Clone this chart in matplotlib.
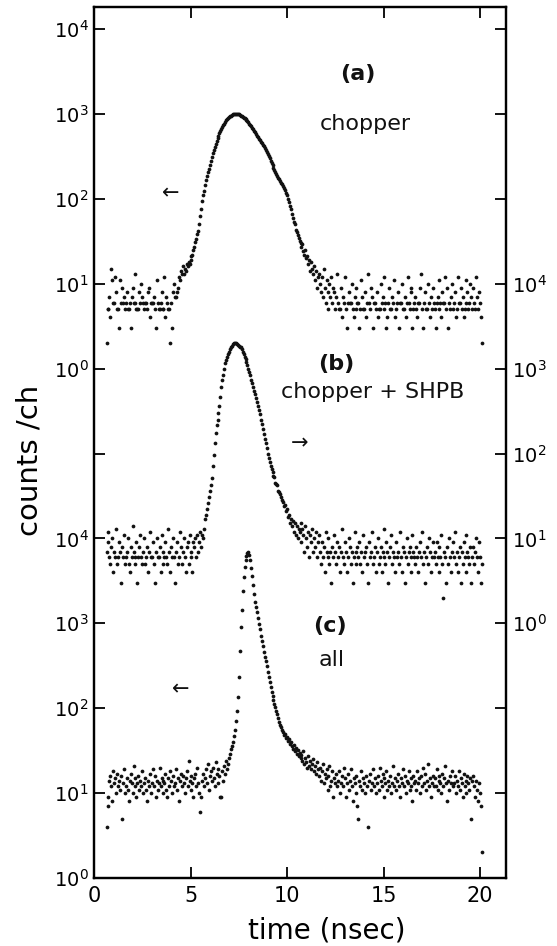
import numpy as np
import matplotlib
matplotlib.use("Agg")
import matplotlib.pyplot as plt
from matplotlib.ticker import FixedLocator, FuncFormatter, NullLocator

# channel grid: 0.05 ns per channel starting at 0.65 ns, 20 channels per row
t0, dt = 0.65, 0.05

# (a) chopper -- upper left scale
counts_a = [
    2, 5, 5, 7, 4, 15, 11, 6, 6, 12, 8, 5, 5, 3, 11, 6, 9, 6, 7, 5,
    6, 8, 5, 5, 6, 3, 7, 9, 6, 13, 6, 5, 5, 5, 8, 6, 10, 7, 6, 5,
    6, 6, 5, 8, 9, 4, 6, 6, 6, 7, 5, 3, 11, 6, 5, 5, 6, 8, 5, 5,
    12, 4, 7, 6, 5, 5, 2, 6, 3, 8, 10, 7, 7, 8, 9, 12, 11, 14, 13, 16,
    13, 15, 14, 17, 16, 18, 17, 19, 21, 22, 25, 27, 31, 34, 38, 42, 50, 62, 76, 95,
    110, 125, 145, 165, 185, 205, 225, 250, 280, 310, 345, 380, 410, 445, 480, 515, 550, 590, 625, 660,
    700, 735, 770, 805, 840, 870, 895, 915, 935, 955, 970, 985, 995, 1000, 1005, 1000, 995, 985, 970, 955,
    940, 925, 905, 885, 865, 845, 820, 795, 770, 740, 715, 690, 660, 630, 605, 575, 550, 530, 510, 490,
    470, 450, 435, 415, 400, 380, 360, 340, 320, 300, 280, 262, 248, 232, 218, 205, 195, 186, 178, 170,
    162, 155, 148, 141, 134, 126, 118, 110, 100, 92, 83, 75, 67, 60, 54, 50, 43, 41, 37, 35,
    32, 30, 27, 29, 24, 22, 25, 20, 21, 17, 19, 14, 18, 15, 13, 16, 11, 14, 9, 12,
    13, 10, 8, 12, 7, 15, 9, 6, 11, 8, 5, 10, 7, 12, 6, 9, 8, 5, 7, 13,
    6, 5, 5, 9, 4, 7, 6, 12, 5, 3, 6, 8, 6, 6, 10, 5, 4, 7, 5, 9,
    6, 6, 3, 5, 11, 7, 5, 5, 8, 4, 6, 13, 6, 5, 9, 7, 3, 6, 6, 5,
    8, 4, 5, 5, 10, 6, 7, 12, 5, 6, 3, 4, 6, 9, 5, 5, 7, 6, 11, 4,
    5, 6, 8, 3, 6, 6, 10, 5, 5, 7, 4, 6, 12, 6, 5, 9, 8, 3, 5, 6,
    7, 5, 4, 6, 6, 9, 13, 5, 3, 6, 8, 5, 5, 10, 6, 4, 7, 5, 9, 6,
    5, 3, 6, 7, 11, 5, 6, 4, 8, 6, 6, 12, 5, 9, 3, 6, 5, 7, 10, 5,
    6, 8, 4, 5, 12, 6, 6, 9, 5, 7, 4, 5, 11, 6, 8, 5, 6, 10, 7, 5,
    9, 6, 5, 12, 7, 5, 8, 6, 4, 2,
]

# (b) chopper + SHPB -- right scale
counts_b = [
    7, 9, 12, 6, 5, 8, 10, 4, 7, 6, 13, 5, 6, 9, 7, 3, 8, 6, 11, 5,
    6, 7, 10, 5, 4, 8, 6, 14, 7, 5, 6, 9, 3, 6, 8, 11, 6, 5, 7, 10,
    5, 6, 8, 4, 7, 12, 6, 6, 9, 5, 3, 7, 10, 6, 6, 8, 4, 11, 7, 5,
    6, 9, 6, 5, 13, 7, 4, 8, 6, 10, 6, 3, 7, 9, 5, 6, 12, 8, 5, 7,
    10, 6, 4, 8, 9, 5, 11, 6, 7, 4, 9, 8, 10, 6, 11, 7, 9, 12, 8, 11,
    10, 13, 17, 19, 22, 26, 31, 36, 43, 52, 71, 95, 132, 174, 214, 251, 302, 363, 468, 603,
    725, 850, 1000, 1150, 1260, 1380, 1480, 1585, 1700, 1780, 1860, 1950, 2000, 2000, 2000, 1950, 1900, 1860, 1820, 1780,
    1700, 1585, 1480, 1380, 1290, 1200, 1100, 1000, 910, 830, 740, 675, 600, 550, 500, 447, 407, 363, 324, 288,
    251, 224, 195, 170, 148, 132, 115, 100, 89, 79, 72, 66, 60, 55, 53, 45, 44, 43, 36, 35,
    33, 31, 28, 27, 24, 25, 21, 22, 18, 19, 15, 17, 14, 16, 12, 15, 11, 14, 10, 13,
    12, 15, 9, 13, 11, 7, 14, 10, 8, 12, 6, 11, 9, 13, 7, 10, 8, 12, 6, 9,
    11, 7, 5, 9, 6, 8, 4, 12, 7, 6, 10, 5, 7, 3, 8, 6, 11, 7, 5, 9,
    6, 8, 4, 7, 13, 6, 5, 9, 7, 4, 6, 10, 8, 5, 7, 3, 6, 12, 7, 5,
    8, 6, 9, 5, 7, 4, 11, 6, 7, 8, 5, 3, 9, 6, 7, 12, 5, 6, 8, 4,
    7, 10, 5, 6, 8, 4, 7, 13, 6, 5, 9, 7, 3, 6, 8, 11, 5, 7, 6, 4,
    9, 6, 7, 5, 12, 6, 4, 8, 7, 3, 6, 10, 5, 7, 8, 4, 6, 11, 7, 6,
    5, 8, 6, 4, 7, 9, 6, 12, 5, 7, 3, 6, 8, 5, 10, 7, 4, 6, 9, 6,
    7, 5, 9, 6, 4, 8, 6, 11, 5, 2, 7, 6, 3, 8, 5, 10, 6, 4, 7, 9,
    6, 12, 5, 7, 4, 6, 8, 3, 7, 5, 9, 6, 11, 4, 7, 6, 5, 8, 3, 6,
    8, 5, 7, 10, 6, 4, 9, 6, 3, 5,
]

# (c) all -- lower left scale
counts_c = [
    4, 7, 9, 14, 16, 12, 8, 18, 13, 15, 10, 17, 12, 14, 11, 16, 5, 13, 19, 10,
    12, 15, 11, 8, 14, 17, 13, 10, 21, 12, 15, 9, 13, 16, 11, 14, 12, 18, 10, 13,
    15, 11, 8, 14, 12, 17, 10, 13, 19, 12, 16, 9, 14, 11, 13, 20, 12, 15, 10, 14,
    13, 17, 11, 9, 15, 12, 18, 14, 10, 16, 12, 13, 19, 11, 15, 8, 14, 17, 12, 16,
    13, 10, 15, 18, 12, 24, 14, 11, 16, 13, 9, 15, 17, 12, 20, 13, 10, 6, 9, 14,
    17, 12, 15, 19, 13, 22, 11, 16, 18, 14, 20, 15, 12, 23, 17, 13, 19, 16, 9, 9,
    18, 14, 21, 17, 24, 19, 22, 26, 29, 33, 36, 40, 47, 56, 70, 92, 135, 235, 470, 900,
    1450, 2400, 3500, 4600, 5500, 6200, 6700, 6900, 6300, 5500, 4500, 3600, 2800, 2200, 1800, 1550, 1350, 1150, 980, 850,
    710, 615, 535, 460, 400, 355, 310, 270, 234, 204, 178, 155, 138, 126, 112, 102, 93, 85, 76, 69,
    64, 60, 55, 52, 48, 50, 44, 46, 41, 43, 38, 40, 36, 33, 37, 31, 34, 29, 32, 27,
    30, 26, 28, 24, 31, 22, 26, 23, 20, 27, 21, 24, 19, 22, 25, 18, 21, 17, 23, 19,
    16, 20, 14, 18, 22, 13, 17, 15, 19, 11, 16, 21, 12, 14, 18, 9, 15, 13, 17, 12,
    14, 18, 10, 13, 16, 12, 20, 15, 9, 13, 17, 11, 14, 19, 12, 8, 15, 13, 10, 16,
    7, 5, 14, 12, 18, 11, 15, 13, 10, 16, 12, 4, 14, 17, 11, 13, 19, 12, 15, 10,
    13, 16, 11, 20, 14, 12, 17, 9, 15, 13, 18, 11, 14, 12, 16, 10, 13, 21, 12, 15,
    11, 14, 17, 12, 9, 15, 13, 19, 12, 16, 10, 14, 13, 18, 11, 15, 12, 8, 16, 13,
    14, 11, 18, 13, 15, 10, 16, 12, 20, 13, 17, 11, 14, 22, 12, 15, 9, 13, 16, 12,
    15, 12, 19, 11, 14, 16, 13, 10, 17, 12, 15, 21, 13, 8, 14, 11, 16, 13, 18, 12,
    13, 16, 10, 14, 12, 18, 11, 15, 13, 9, 17, 12, 14, 10, 16, 13, 11, 15, 5, 14,
    16, 12, 9, 14, 11, 8, 13, 10, 7, 2,
]

x_ticks = [0, 5, 10, 15, 20]

W, H = 557, 946
fig = plt.figure(figsize=(W / 100, H / 100), dpi=100)
# frame in pixels: left 94, right 506, top 7, bottom 878
ax = fig.add_axes([94 / W, 68 / H, 412 / W, 871 / H])
ndec = 871 / 84.9  # decades spanned by the frame

ax.set_yscale("log")
ax.set_ylim(1, 10 ** ndec)
ax.set_xlim(0, 412 / 19.3)

axr = ax.twinx()
axr.set_yscale("log")
axr.set_ylim(1e-3, 10 ** (ndec - 3))

axa = ax.twinx()
axa.set_yscale("log")
axa.set_ylim(1e-6, 10 ** (ndec - 6))
axa.axis("off")

dot = dict(marker="o", ls="none", ms=2.7, mew=0, color="#111111")
for target, counts in ((axa, counts_a), (axr, counts_b), (ax, counts_c)):
    t = t0 + dt * np.arange(len(counts))
    target.plot(t, counts, **dot)

# left axis: two stacked scales 10^0..10^4
def left_fmt(v, pos):
    k = int(round(np.log10(v)))
    if k == 5:
        return ""
    return r"$10^{%d}$" % (k if k < 5 else k - 6)

def right_fmt(v, pos):
    k = int(round(np.log10(v)))
    return r"$10^{%d}$" % k if 0 <= k <= 4 else ""

ax.yaxis.set_major_locator(FixedLocator([10.0 ** k for k in range(11)]))
ax.yaxis.set_minor_locator(NullLocator())
ax.yaxis.set_major_formatter(FuncFormatter(left_fmt))
axr.yaxis.set_major_locator(FixedLocator([10.0 ** k for k in range(-3, 8)]))
axr.yaxis.set_minor_locator(NullLocator())
axr.yaxis.set_major_formatter(FuncFormatter(right_fmt))

ax.set_xticks(x_ticks)
ax.set_xticklabels([str(v) for v in x_ticks])
ax.tick_params(axis="y", direction="in", length=8, width=1.3, labelsize=14, pad=4)
ax.tick_params(axis="x", direction="in", length=8, width=1.3, labelsize=15, pad=6, top=True)
axr.tick_params(axis="y", direction="in", length=8, width=1.3, labelsize=14, pad=4)
for a in (ax, axr):
    for s in a.spines.values():
        s.set_linewidth(1.6)

tr = ax.get_xaxis_transform()
txt = dict(ha="center", va="center", transform=tr, color="#111111")
ax.text(13.68, 0.923, "(a)", fontsize=16, fontweight="bold", **txt)
ax.text(14.04, 0.866, "chopper", fontsize=16, **txt)
ax.text(3.99, 0.786, "\u2190", fontsize=15, **txt)
ax.text(12.54, 0.590, "(b)", fontsize=16, fontweight="bold", **txt)
ax.text(14.46, 0.558, "chopper + SHPB", fontsize=16, **txt)
ax.text(10.67, 0.499, "\u2192", fontsize=15, **txt)
ax.text(12.23, 0.289, "(c)", fontsize=16, fontweight="bold", **txt)
ax.text(12.33, 0.250, "all", fontsize=16, **txt)
ax.text(4.50, 0.216, "\u2190", fontsize=15, **txt)

fig.text(327 / W, 1 - 930 / H, "time (nsec)", ha="center", va="center", fontsize=20)
fig.text(30 / W, 1 - 460 / H, "counts /ch", rotation=90, ha="center", va="center", fontsize=21)

fig.savefig("out.png", dpi=100)
